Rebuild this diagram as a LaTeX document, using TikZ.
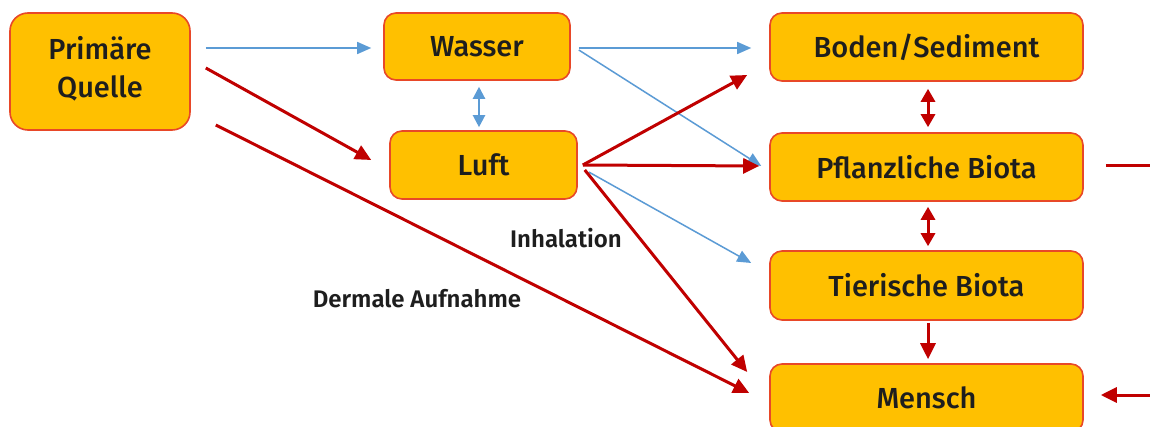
\documentclass[tikz,border=0pt]{standalone}
\usepackage{fontspec}
\setmainfont{Fira Sans}[UprightFont=* Medium, BoldFont=* SemiBold]
\usetikzlibrary{arrows.meta}
\definecolor{boxfill}{RGB}{255,192,0}
\definecolor{boxline}{RGB}{232,72,40}
\definecolor{darkred}{RGB}{192,0,0}
\definecolor{lblue}{RGB}{91,155,213}
\definecolor{txt}{RGB}{30,30,30}
\tikzset{
  box/.style={draw=boxline, line width=1.6pt, fill=boxfill, rounded corners=12pt,
    text=txt, font=\fontsize{29}{38}\selectfont, inner sep=0pt, align=center},
  redarr/.style={draw=darkred, line width=3pt, -{Triangle[length=16pt,width=15pt]}},
  redboth/.style={draw=darkred, line width=3pt, {Triangle[length=13pt,width=14pt]}-{Triangle[length=13pt,width=14pt]}},
  bluearr/.style={draw=lblue, line width=1.5pt, -{Triangle[length=14pt,width=12pt]}},
  blueboth/.style={draw=lblue, line width=2.2pt, {Triangle[length=12pt,width=12pt]}-{Triangle[length=12pt,width=12pt]}},
  lbl/.style={text=txt, font=\fontsize{24}{28}\selectfont\bfseries, inner sep=0pt}
}
\begin{document}
\begin{tikzpicture}[x=1pt,y=-1pt]
\useasboundingbox (0,0) rectangle (1150,427);
\fill[white] (0,0) rectangle (1150,427);
\begin{scope}
\clip (0,0) rectangle (1150,427);
\node[box, rounded corners=18pt, minimum width=180pt, minimum height=117pt] (quelle) at (100,71.5) {Primäre\\Quelle\\[-29pt]\mbox{}};
\node[box, minimum width=186pt, minimum height=67pt] (wasser) at (477,46.5) {Wasser};
\node[box, minimum width=187pt, minimum height=68pt] (luft) at (483.5,165) {Luft};
\node[box, minimum width=313pt, minimum height=68pt] (boden) at (926.5,47) {Boden/Sediment};
\node[box, minimum width=313pt, minimum height=68pt] (pflanz) at (926.5,167) {Pflanzliche Biota};
\node[box, minimum width=313pt, minimum height=69pt] (tier) at (926.5,285.5) {Tierische Biota};
\node[box, minimum width=313pt, minimum height=68pt] (mensch) at (926.5,398) {Mensch};

\coordinate (pout) at (1150,166);
\coordinate (min) at (1150,395);

% blue connectors
\draw[bluearr] ([shift={(15,-23.5)}]quelle.east) -- ([shift={(-12,1.5)}]wasser.west);
\draw[blueboth] ([shift={(2,6)}]wasser.south) -- ([shift={(-4.5,-3)}]luft.north);
\draw[bluearr] ([shift={(8,1.5)}]wasser.east) -- ([shift={(-18,1)}]boden.west);
\draw[bluearr] ([shift={(8,3.5)}]wasser.east) -- ([shift={(-8,-1)}]pflanz.west);
\draw[bluearr] ([shift={(11,7)}]luft.east) -- ([shift={(-18,-22.5)}]tier.west);

% red connectors
\draw[redarr] ([shift={(15,-3.5)}]quelle.east) -- ([shift={(-18,-5)}]luft.west);
\draw[redarr] ([shift={(25,53.5)}]quelle.east) -- ([shift={(-20,-5)}]mensch.west);
\draw[redarr] ([shift={(5,0)}]luft.east) -- ([shift={(-22,28)}]boden.west);
\draw[redarr] ([shift={(5,0)}]luft.east) -- ([shift={(-10,-1)}]pflanz.west);
\draw[redarr] ([shift={(7,5)}]luft.east) -- ([shift={(-22,-26)}]mensch.west);
\draw[redboth] ([shift={(1.5,7)}]boden.south) -- ([shift={(1.5,-5)}]pflanz.north);
\draw[redboth] ([shift={(1.5,5)}]pflanz.south) -- ([shift={(1.5,-4)}]tier.north);
\draw[redarr] ([shift={(1.5,2)}]tier.south) -- ([shift={(1.5,-4)}]mensch.north);
\draw[draw=darkred, line width=3pt] ([shift={(22,-1)}]pflanz.east) -- (pout);
\draw[redarr] (min) -- ([shift={(17,-3)}]mensch.east);

\node[lbl] (inh) at (566,238) {Inhalation};
\node[lbl] (derm) at (417,299) {Dermale Aufnahme};
\end{scope}
\end{tikzpicture}
\end{document}
